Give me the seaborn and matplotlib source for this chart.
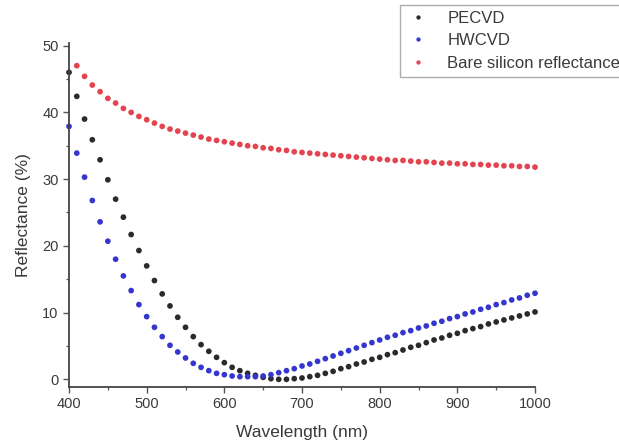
import numpy as np
import pandas as pd
import matplotlib
matplotlib.use("Agg")
import matplotlib.pyplot as plt
import seaborn as sns
from matplotlib.ticker import MultipleLocator

# Wavelength grid (nm)
wl_pecvd = list(range(400, 1001, 10))
wl_hwcvd = list(range(400, 1001, 10))
wl_bare = list(range(410, 1001, 10))

# Reflectance (%)
pecvd = [46.0, 42.4, 39.0, 35.9, 32.9, 29.9, 27.0, 24.3, 21.7, 19.3,
         17.0, 14.8, 12.8, 11.0, 9.3, 7.8, 6.4, 5.2, 4.2, 3.3,
         2.5, 1.8, 1.3, 0.9, 0.6, 0.3, 0.1, 0.0, 0.0, 0.1,
         0.2, 0.4, 0.6, 0.9, 1.2, 1.6, 1.9, 2.3, 2.6, 3.0,
         3.3, 3.7, 4.0, 4.4, 4.8, 5.1, 5.5, 5.9, 6.2, 6.6,
         6.9, 7.3, 7.6, 7.9, 8.3, 8.6, 8.9, 9.2, 9.5, 9.8, 10.1]

hwcvd = [37.9, 33.9, 30.3, 26.8, 23.6, 20.7, 18.0, 15.5, 13.3, 11.2,
         9.4, 7.8, 6.4, 5.1, 4.1, 3.2, 2.4, 1.8, 1.3, 0.9,
         0.7, 0.5, 0.4, 0.4, 0.4, 0.5, 0.7, 1.0, 1.3, 1.6,
         2.0, 2.3, 2.7, 3.1, 3.5, 3.9, 4.3, 4.7, 5.1, 5.5,
         5.9, 6.3, 6.6, 7.0, 7.3, 7.7, 8.0, 8.4, 8.7, 9.1,
         9.4, 9.8, 10.1, 10.5, 10.8, 11.2, 11.5, 11.9, 12.2, 12.6, 12.9]

bare = [47.0, 45.4, 44.1, 43.1, 42.1, 41.4, 40.6, 40.0, 39.4,
        38.9, 38.4, 37.9, 37.5, 37.2, 36.9, 36.6, 36.3, 36.0, 35.8,
        35.6, 35.4, 35.2, 35.0, 34.9, 34.7, 34.6, 34.4, 34.3, 34.1,
        34.0, 33.9, 33.8, 33.7, 33.6, 33.5, 33.4, 33.3, 33.2, 33.1,
        33.0, 32.9, 32.8, 32.8, 32.7, 32.6, 32.6, 32.5, 32.4, 32.4,
        32.3, 32.3, 32.2, 32.2, 32.1, 32.1, 32.0, 32.0, 31.9, 31.9, 31.8]

labels = ["PECVD", "HWCVD", "Bare silicon reflectance"]
colors = ["#2a2a2a", "#3535cf", "#e4444f"]

df = pd.concat([
    pd.DataFrame({"Wavelength": wl_pecvd, "Reflectance": pecvd, "Sample": labels[0]}),
    pd.DataFrame({"Wavelength": wl_hwcvd, "Reflectance": hwcvd, "Sample": labels[1]}),
    pd.DataFrame({"Wavelength": wl_bare, "Reflectance": bare, "Sample": labels[2]}),
], ignore_index=True)

sns.set_style("ticks")
plt.rcParams["font.family"] = ["Liberation Sans", "DejaVu Sans"]
text_col = "#3a3a3a"

fig = plt.figure(figsize=(6.19, 4.45), dpi=100)
ax = fig.add_axes([0.1115, 0.1303, 0.7528, 0.7731])

sns.scatterplot(data=df, x="Wavelength", y="Reflectance", hue="Sample",
                hue_order=labels, palette=dict(zip(labels, colors)),
                s=17, linewidth=0, ax=ax, clip_on=False)

ax.set_xlim(400, 1000)
ax.set_ylim(-1.15, 50.4)
ax.xaxis.set_major_locator(MultipleLocator(100))
ax.xaxis.set_minor_locator(MultipleLocator(50))
ax.yaxis.set_major_locator(MultipleLocator(10))
ax.yaxis.set_minor_locator(MultipleLocator(5))

for side in ("top", "right"):
    ax.spines[side].set_visible(False)
for side in ("left", "bottom"):
    ax.spines[side].set_color("#444444")
    ax.spines[side].set_linewidth(1.3)

ax.tick_params(which="major", length=4, width=1.0, color="#555555",
               labelsize=10.5, labelcolor=text_col, direction="out")
ax.tick_params(which="minor", length=2.5, width=0.9, color="#555555", direction="out")

ax.set_xlabel("Wavelength (nm)", fontsize=12.5, color=text_col, labelpad=10)
ax.set_ylabel("Reflectance (%)", fontsize=12.5, color=text_col, labelpad=8)

handles, lbls = ax.get_legend_handles_labels()
ax.legend(handles=handles, labels=lbls, loc="upper left",
          bbox_to_anchor=(0.646, 0.989), bbox_transform=fig.transFigure,
          borderaxespad=0, frameon=True, fancybox=False, edgecolor="#999999",
          fontsize=12, handlelength=1.5, handletextpad=1.0,
          borderpad=0.35, labelspacing=0.45, markerscale=0.75,
          labelcolor=text_col)

fig.savefig("out.png", dpi=100)
